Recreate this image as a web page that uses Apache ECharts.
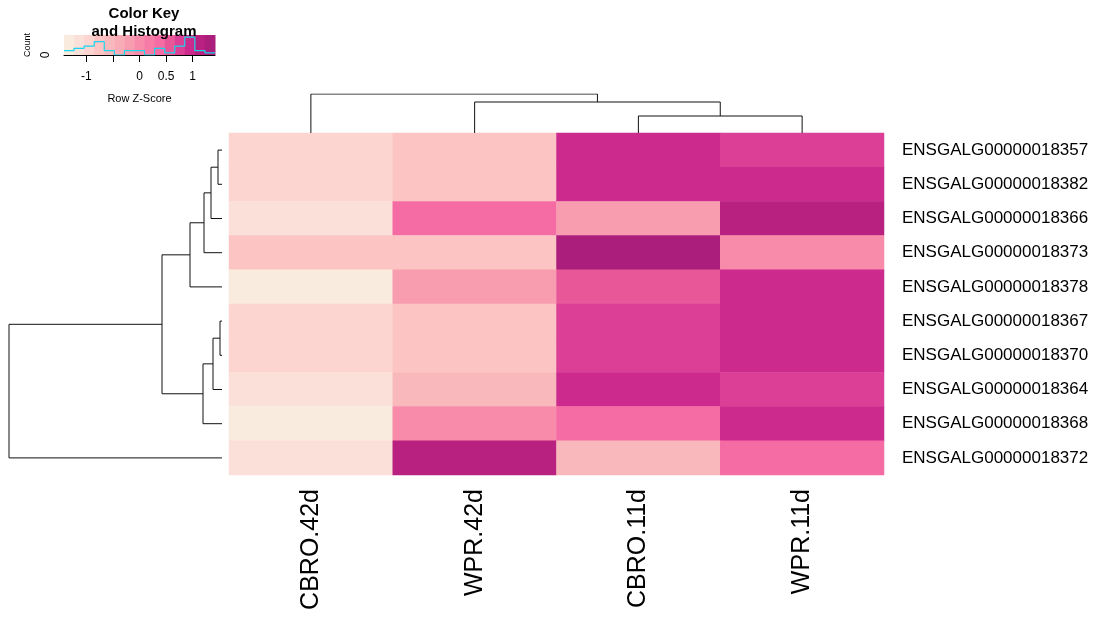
<!DOCTYPE html>
<html>
<head>
<meta charset="utf-8">
<script src="https://cdn.jsdelivr.net/npm/echarts@6/dist/echarts.min.js"></script>
<style>
html, body { margin: 0; padding: 0; background: #fff; }
#main { width: 1097px; height: 623px; }
</style>
</head>
<body>
<div id="main"></div>
<script>
// heatmap rows (top to bottom) and columns (left to right), already in dendrogram order
const genes = [
    "ENSGALG00000018357", "ENSGALG00000018382", "ENSGALG00000018366", "ENSGALG00000018373",
    "ENSGALG00000018378", "ENSGALG00000018367", "ENSGALG00000018370", "ENSGALG00000018364",
    "ENSGALG00000018368", "ENSGALG00000018372"
]
const samples = [ "CBRO.42d", "WPR.42d", "CBRO.11d", "WPR.11d" ]
// row z-scores, one row per gene, columns as in samples
const zScores = [
    [ -0.95, -0.76, 0.95, 0.76 ],
    [ -0.97, -0.78, 0.88, 0.87 ],
    [ -1.20, 0.32, -0.25, 1.13 ],
    [ -0.72, -0.68, 1.33, 0.07 ],
    [ -1.33, -0.19, 0.57, 0.95 ],
    [ -0.95, -0.76, 0.76, 0.95 ],
    [ -0.93, -0.78, 0.77, 0.94 ],
    [ -1.14, -0.57, 0.95, 0.76 ],
    [ -1.30, 0.00, 0.38, 0.92 ],
    [ -1.15, 1.22, -0.52, 0.45 ],
]
// colour key
const keyMin = -1.42
const keyMax = 1.42
const keyColors = [
    "#faebdf", "#fbe0d9", "#fcd4d0", "#fcc5c3", "#f9b8bc", "#f9abb6", "#f89cb0", "#f78ba9",
    "#f67ba6", "#f56ba3", "#e85898", "#db3f96", "#cc2a8d", "#b8217f", "#ab1e7b"
]
const keyTicks = [ -1, -0.5, 0, 0.5, 1 ]
const keyLabels = [ -1, 0, 0.5, 1 ]
// dendrograms, hclust style: negative = leaf (1-based display order), positive = earlier merge
const rowMerge = [ [-1, -2], [1, -3], [2, -4], [3, -5], [-6, -7], [5, -8], [6, -9], [4, 7], [8, -10] ]
const rowHeights = [ 0.04, 0.11, 0.18, 0.32, 0.02, 0.09, 0.19, 0.60, 2.13 ]
const colMerge = [ [-3, -4], [-2, 1], [-1, 2] ]
const colHeights = [ 0.17, 0.31, 0.39 ]

const font = "Liberation Sans, Arial, Helvetica, sans-serif"

let step = (keyMax - keyMin) / keyColors.length
let pieces = keyColors.map((c, i) => ({
    gte: keyMin + i * step,
    lt: i === keyColors.length - 1 ? keyMax + 1 : keyMin + (i + 1) * step,
    color: c,
}))
pieces[0].gte = keyMin - 1

let cells = []
zScores.forEach((row, r) => row.forEach((v, c) => cells.push([c, r, v])))

// histogram of the z-scores over the key bins
let counts = keyColors.map(() => 0)
zScores.flat().forEach(v => {
    let k = Math.min(keyColors.length - 1, Math.max(0, Math.floor((v - keyMin) / step)))
    counts[k]++
})
let hist = counts.map((n, i) => [keyMin + i * step, n])
hist.push([keyMax, counts[counts.length - 1]])

function dendro(merge, heights, flip) {
    let pos = [], ht = [], out = []
    merge.forEach((m, k) => {
        let get = j => j < 0 ? [-j - 0.5, 0] : [pos[j - 1], ht[j - 1]]
        let [pa, ha] = get(m[0])
        let [pb, hb] = get(m[1])
        let h = heights[k]
        pos[k] = (pa + pb) / 2
        ht[k] = h
        let pts = [[pa, ha], [pa, h], [pb, h], [pb, hb]]
        if (flip) pts = pts.map(p => [p[1], p[0]])
        out.push({ coords: pts })
    })
    return out
}

let chart = echarts.init(document.getElementById("main"), null, { renderer: "canvas" })
chart.setOption({
    animation: false,
    backgroundColor: "#fff",
    title: {
        text: "Color Key\nand Histogram",
        left: 139,
        top: 0,
        textAlign: "center",
        textStyle: { fontFamily: font, fontSize: 15, fontWeight: "bold", color: "#000", lineHeight: 18 },
    },
    grid: [
        { left: 229, top: 133, width: 655, height: 342 },
        { left: 9, top: 133, width: 213, height: 342 },
        { left: 229, top: 94, width: 655, height: 39 },
        { left: 64, top: 35, width: 151, height: 20 },
    ],
    xAxis: [
        {
            gridIndex: 0,
            type: "category",
            data: samples,
            axisLine: { show: false },
            axisTick: { show: false },
            axisLabel: { rotate: 90, margin: 14, fontSize: 25, fontFamily: font, color: "#000" },
        },
        { gridIndex: 1, type: "value", min: 0, max: rowHeights[rowHeights.length - 1], inverse: true, show: false },
        { gridIndex: 2, type: "value", min: 0, max: samples.length, show: false },
        {
            gridIndex: 3,
            type: "value",
            min: keyMin,
            max: keyMax,
            splitLine: { show: false },
            axisLine: { onZero: false, lineStyle: { color: "#000", width: 1 } },
            axisTick: { customValues: keyTicks, length: 7, lineStyle: { color: "#000" } },
            axisLabel: { customValues: keyLabels, margin: 16, fontSize: 12, fontFamily: font, color: "#000" },
            name: "Row Z-Score",
            nameLocation: "middle",
            nameGap: 38,
            nameTextStyle: { fontSize: 11, fontFamily: font, color: "#000" },
        },
    ],
    yAxis: [
        {
            gridIndex: 0,
            type: "category",
            data: genes,
            inverse: true,
            position: "right",
            axisLine: { show: false },
            axisTick: { show: false },
            axisLabel: { margin: 18, fontSize: 17, fontFamily: font, color: "#000" },
        },
        { gridIndex: 1, type: "value", min: 0, max: genes.length, inverse: true, show: false },
        { gridIndex: 2, type: "value", min: 0, max: colHeights[colHeights.length - 1], show: false },
        {
            gridIndex: 3,
            type: "value",
            min: 0,
            max: 9,
            interval: 2,
            splitLine: { show: false },
            axisLine: { show: true, lineStyle: { color: "#000", width: 1 } },
            axisTick: { show: true, length: 8, lineStyle: { color: "#000" } },
            axisLabel: {
                rotate: 90,
                margin: 12,
                fontSize: 12,
                fontFamily: font,
                color: "#000",
                formatter: v => v === 0 ? "0" : "",
            },
            name: "Count",
            nameLocation: "middle",
            nameRotate: 90,
            nameGap: 32,
            nameTextStyle: { fontSize: 9, fontFamily: font, color: "#000" },
        },
    ],
    visualMap: {
        show: false,
        type: "piecewise",
        seriesIndex: 0,
        dimension: 2,
        pieces: pieces,
    },
    series: [
        {
            type: "heatmap",
            xAxisIndex: 0,
            yAxisIndex: 0,
            data: cells,
            itemStyle: { borderWidth: 0 },
            emphasis: { disabled: true },
        },
        {
            type: "lines",
            coordinateSystem: "cartesian2d",
            xAxisIndex: 1,
            yAxisIndex: 1,
            polyline: true,
            silent: true,
            lineStyle: { color: "#111", width: 1, opacity: 1 },
            data: dendro(rowMerge, rowHeights, true),
        },
        {
            type: "lines",
            coordinateSystem: "cartesian2d",
            xAxisIndex: 2,
            yAxisIndex: 2,
            polyline: true,
            silent: true,
            lineStyle: { color: "#111", width: 1, opacity: 1 },
            data: dendro(colMerge, colHeights, false),
        },
        {
            type: "custom",
            xAxisIndex: 3,
            yAxisIndex: 3,
            silent: true,
            z: 1,
            data: pieces.map((p, i) => ({
                value: [keyMin + i * step, keyMin + (i + 1) * step],
                itemStyle: { color: p.color },
            })),
            renderItem: (params, api) => {
                let a = api.coord([api.value(0), 9])
                let b = api.coord([api.value(1), 0])
                return {
                    type: "rect",
                    shape: { x: a[0], y: a[1], width: b[0] - a[0] + 0.5, height: b[1] - a[1] },
                    style: { fill: api.visual("color") },
                }
            },
        },
        {
            type: "line",
            xAxisIndex: 3,
            yAxisIndex: 3,
            step: "end",
            symbol: "none",
            silent: true,
            z: 3,
            lineStyle: { color: "#19d6ec", width: 1.2 },
            data: hist,
        },
    ],
})
</script>
</body>
</html>
